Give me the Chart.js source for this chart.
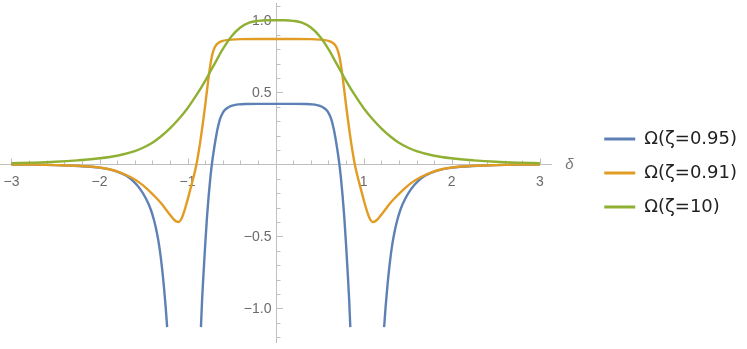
<!DOCTYPE html>
<html>
<head>
<meta charset="utf-8">
<script src="https://cdn.jsdelivr.net/npm/chart.js@4.4.1/dist/chart.umd.min.js"></script>
<style>
  html, body { margin: 0; padding: 0; background: #fff; }
</style>
</head>
<body>
<canvas id="myChart" width="747" height="349"></canvas>
<script>
// values
var seriesLabels = ['\u03A9(\u03B6=0.95)', '\u03A9(\u03B6=0.91)', '\u03A9(\u03B6=10)'];

var blueX = [-3, -2.75, -2.5, -2.25, -2, -1.9, -1.8, -1.7, -1.62, -1.54, -1.47, -1.42, -1.38, -1.35, -1.32, -1.29, -1.27, -1.25, -1.232,
  -1.04,
  -0.848, -0.835, -0.82, -0.8, -0.78, -0.76, -0.74, -0.72, -0.7, -0.68, -0.66, -0.63, -0.6, -0.57, -0.54, -0.51, -0.47, -0.42, -0.35, -0.2,
  0,
  0.2, 0.35, 0.42, 0.47, 0.51, 0.54, 0.57, 0.6, 0.63, 0.66, 0.68, 0.7, 0.72, 0.74, 0.76, 0.78, 0.8, 0.82, 0.835, 0.848,
  1.04,
  1.232, 1.25, 1.27, 1.29, 1.32, 1.35, 1.38, 1.42, 1.47, 1.54, 1.62, 1.7, 1.8, 1.9, 2, 2.25, 2.5, 2.75, 3];
var blueY = [-0.001, -0.002, -0.005, -0.011, -0.023, -0.033, -0.05, -0.078, -0.115, -0.17, -0.24, -0.31, -0.39, -0.47, -0.575, -0.72, -0.84, -0.98, -1.13,
  null,
  -1.13, -0.94, -0.77, -0.56, -0.37, -0.215, -0.085, 0.02, 0.105, 0.18, 0.245, 0.318, 0.358, 0.381, 0.395, 0.404, 0.411, 0.416, 0.419, 0.42,
  0.42,
  0.42, 0.419, 0.416, 0.411, 0.404, 0.395, 0.381, 0.358, 0.318, 0.245, 0.18, 0.105, 0.02, -0.085, -0.215, -0.37, -0.56, -0.77, -0.94, -1.13,
  null,
  -1.13, -0.98, -0.84, -0.72, -0.575, -0.47, -0.39, -0.31, -0.24, -0.17, -0.115, -0.078, -0.05, -0.033, -0.023, -0.011, -0.005, -0.002, -0.001];

var orangeX = [-3, -2.75, -2.5, -2.25, -2, -1.9, -1.77, -1.65, -1.55, -1.45, -1.36, -1.3, -1.25, -1.2, -1.16, -1.13, -1.1, -1.07, -1.04, -1.01,
  -0.98, -0.95, -0.92, -0.9, -0.88, -0.86, -0.84, -0.82, -0.8, -0.78, -0.76, -0.74, -0.72, -0.7, -0.68, -0.66, -0.63, -0.6, -0.56, -0.5, -0.4, -0.2,
  0,
  0.2, 0.4, 0.5, 0.56, 0.6, 0.63, 0.66, 0.68, 0.7, 0.72, 0.74, 0.76, 0.78, 0.8, 0.82, 0.84, 0.86, 0.88, 0.9, 0.92, 0.95, 0.98,
  1.01, 1.04, 1.07, 1.1, 1.13, 1.16, 1.2, 1.25, 1.3, 1.36, 1.45, 1.55, 1.65, 1.77, 1.9, 2, 2.25, 2.5, 2.75, 3];
var orangeY = [-0.001, -0.002, -0.005, -0.01, -0.022, -0.032, -0.055, -0.088, -0.125, -0.175, -0.23, -0.27, -0.31, -0.35, -0.38, -0.396, -0.4, -0.378, -0.33, -0.268,
  -0.2, -0.13, -0.058, -0.003, 0.065, 0.14, 0.225, 0.315, 0.41, 0.51, 0.61, 0.695, 0.76, 0.8, 0.824, 0.838, 0.85, 0.857, 0.862, 0.866, 0.869, 0.87,
  0.87,
  0.87, 0.869, 0.866, 0.862, 0.857, 0.85, 0.838, 0.824, 0.8, 0.76, 0.695, 0.61, 0.51, 0.41, 0.315, 0.225, 0.14, 0.065, -0.003, -0.058, -0.13, -0.2,
  -0.268, -0.33, -0.378, -0.4, -0.396, -0.38, -0.35, -0.31, -0.27, -0.23, -0.175, -0.125, -0.088, -0.055, -0.032, -0.022, -0.01, -0.005, -0.002, -0.001];

var greenX = [-3, -2.75, -2.5, -2.25, -2, -1.8, -1.6, -1.5, -1.4, -1.3, -1.2, -1.1, -1, -0.9, -0.8, -0.7, -0.6, -0.5, -0.4, -0.3, -0.2, -0.1,
  0,
  0.1, 0.2, 0.3, 0.4, 0.5, 0.6, 0.7, 0.8, 0.9, 1, 1.1, 1.2, 1.3, 1.4, 1.5, 1.6, 1.8, 2, 2.25, 2.5, 2.75, 3];
var greenY = [0.008, 0.012, 0.018, 0.028, 0.042, 0.06, 0.092, 0.117, 0.15, 0.195, 0.25, 0.315, 0.39, 0.48, 0.58, 0.69, 0.8, 0.89, 0.95, 0.984, 0.996, 1,
  1,
  1, 0.996, 0.984, 0.95, 0.89, 0.8, 0.69, 0.58, 0.48, 0.39, 0.315, 0.25, 0.195, 0.15, 0.117, 0.092, 0.06, 0.042, 0.028, 0.018, 0.012, 0.008];

var xTickValues = [-3, -2, -1, 1, 2, 3];
var xTickLabels = ['\u22123', '\u22122', '\u22121', '1', '2', '3'];
var yTickValues = [-1, -0.5, 0.5, 1];
var yTickLabels = ['\u22121.0', '\u22120.5', '0.5', '1.0'];
var xAxisTitle = '\u03B4';
var xAxisRange = [-3.13, 3.14];
var yAxisRange = [-1.24, 1.12];

var colors = ['#5E81B5', '#E19C24', '#8FB032'];

function toPoints(xs, ys) {
  return xs.map(function (x, i) { return { x: x, y: ys[i] }; });
}

// Mathematica style axes: through the origin, ticks pointing inwards
var axesPlugin = {
  id: 'mathAxes',
  beforeDatasetsDraw: function (chart) {
    var ctx = chart.ctx;
    var xs = chart.scales.x, ys = chart.scales.y;
    var x0 = Math.round(xs.getPixelForValue(0)) + 0.5;
    var y0 = Math.round(ys.getPixelForValue(0)) + 0.5;
    ctx.save();
    ctx.strokeStyle = '#bfbfbf';
    ctx.lineWidth = 1;
    ctx.beginPath();
    ctx.moveTo(xs.getPixelForValue(xAxisRange[0]), y0);
    ctx.lineTo(xs.getPixelForValue(xAxisRange[1]), y0);
    ctx.moveTo(x0, ys.getPixelForValue(yAxisRange[0]));
    ctx.lineTo(x0, ys.getPixelForValue(yAxisRange[1]));
    for (var i = -15; i <= 15; i++) {
      if (i === 0) continue;
      var px = Math.round(xs.getPixelForValue(i / 5)) + 0.5;
      ctx.moveTo(px, y0);
      ctx.lineTo(px, y0 - (i % 5 === 0 ? 6 : 4));
    }
    for (var j = -12; j <= 11; j++) {
      if (j === 0) continue;
      var py = Math.round(ys.getPixelForValue(j / 10)) + 0.5;
      ctx.moveTo(x0, py);
      ctx.lineTo(x0 + (j % 5 === 0 ? 6.5 : 4), py);
    }
    ctx.stroke();

    ctx.fillStyle = '#6b6b6b';
    ctx.font = '14px "Liberation Sans", Arial, sans-serif';
    ctx.textBaseline = 'alphabetic';
    ctx.textAlign = 'center';
    xTickValues.forEach(function (v, k) {
      ctx.fillText(xTickLabels[k], xs.getPixelForValue(v), y0 + 21);
    });
    ctx.textAlign = 'right';
    yTickValues.forEach(function (v, k) {
      ctx.fillText(yTickLabels[k], x0 - 5, ys.getPixelForValue(v) + 5);
    });
    ctx.font = 'italic 15px "Liberation Sans", Arial, sans-serif';
    ctx.fillStyle = '#777777';
    ctx.textAlign = 'left';
    ctx.textBaseline = 'middle';
    ctx.fillText(xAxisTitle, xs.getPixelForValue(xAxisRange[1]) + 13, y0);
    ctx.restore();
  }
};

var ctx = document.getElementById('myChart').getContext('2d');
var chart = new Chart(ctx, {
  type: 'line',
  data: {
    datasets: [
      { label: seriesLabels[0], data: toPoints(blueX, blueY), borderColor: colors[0], backgroundColor: colors[0], order: 3 },
      { label: seriesLabels[1], data: toPoints(orangeX, orangeY), borderColor: colors[1], backgroundColor: colors[1], order: 2 },
      { label: seriesLabels[2], data: toPoints(greenX, greenY), borderColor: colors[2], backgroundColor: colors[2], order: 1 }
    ]
  },
  options: {
    responsive: false,
    animation: false,
    devicePixelRatio: 1,
    layout: { padding: { top: 3, bottom: 6, left: 0, right: 0 } },
    elements: {
      point: { radius: 0, hoverRadius: 0 },
      line: { borderWidth: 2.4, cubicInterpolationMode: 'monotone' }
    },
    scales: {
      x: { type: 'linear', min: -3.13, max: 3.55, display: false },
      y: { type: 'linear', min: yAxisRange[0], max: yAxisRange[1], display: false }
    },
    plugins: {
      tooltip: { enabled: false },
      legend: {
        position: 'right',
        align: 'center',
        labels: {
          boxWidth: 31,
          boxHeight: 3,
          padding: 16,
          color: '#222222',
          font: { family: "'DejaVu Sans', sans-serif", size: 18 },
          sort: function (a, b) { return a.datasetIndex - b.datasetIndex; },
          generateLabels: function (c) {
            return Chart.defaults.plugins.legend.labels.generateLabels(c).map(function (item) {
              item.lineWidth = 0;
              return item;
            });
          }
        }
      }
    }
  },
  plugins: [axesPlugin]
});
</script>
</body>
</html>
